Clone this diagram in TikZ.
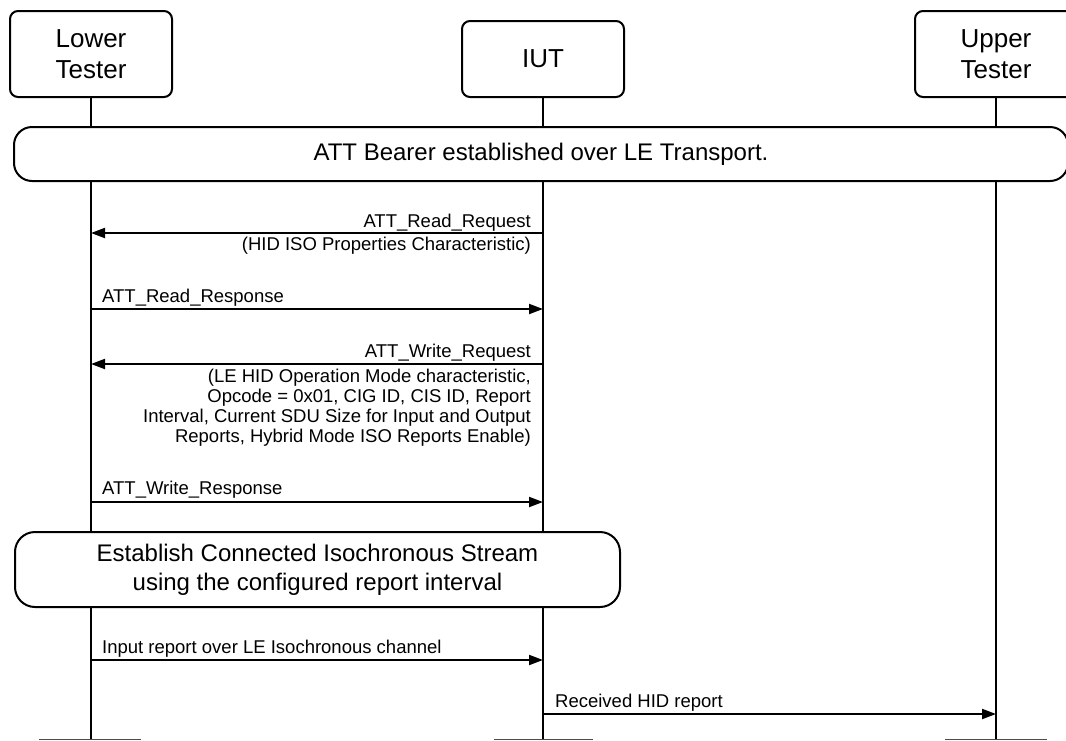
\documentclass[tikz,border=0pt]{standalone}
\usepackage{fontspec}
\setmainfont{Liberation Sans}
\usetikzlibrary{arrows.meta,calc,positioning}

\tikzset{
  actor/.style={draw,line width=2pt,rounded corners=8pt,fill=white,
    minimum width=162pt,minimum height=86pt,align=center,inner sep=0pt,
    font=\fontsize{26}{31}\selectfont},
  note/.style={draw,line width=2pt,fill=white,align=center,inner sep=0pt,
    font=\fontsize{24}{29}\selectfont},
  life/.style={line width=2pt},
  msg/.style={line width=2pt,-{Triangle[length=14pt,width=10pt]}},
  lbl/.style={inner sep=0pt,font=\fontsize{18.5}{20}\selectfont},
  foot/.style={line width=1.5pt,black!70}
}

\begin{document}
\begin{tikzpicture}[x=1pt,y=-1pt]
 \useasboundingbox (0,0) rectangle (1066,740);
 % participants
 \node[actor] (lt) at (91,54) {Lower\\Tester};
 \node[actor,minimum height=76pt] (iut) at (543,59) {IUT};
 \node[actor] (ut) at (996,54) {Upper\\Tester};
 \coordinate (lt-end) at (lt.south |- 0,740);
 \coordinate (iut-end) at (iut.south |- 0,740);
 \coordinate (ut-end) at (ut.south |- 0,740);
 \draw[life] (lt.south) -- (lt-end);
 \draw[life] (iut.south) -- (iut-end);
 \draw[life] (ut.south) -- (ut-end);
 \draw[foot] (39,739.5) -- (141,739.5);
 \draw[foot] (494,739.5) -- (593,739.5);
 \draw[foot] (945,739.5) -- (1047,739.5);

 \node[note,rounded corners=18pt,minimum width=1054pt,minimum height=54pt] (bearer)
   at (541,154) {ATT Bearer established over LE Transport.};

 % ATT read
 \coordinate (lt1) at (lt.south |- 0,233);
 \coordinate (iut1) at (iut.south |- 0,233);
 \draw[msg] (iut1) -- (lt1);
 \node[lbl,anchor=base east] (rreq) at ($(iut1)+(-12,-6)$) {ATT\_Read\_Request};
 \node[lbl,anchor=north east,align=right] (rreq-p) at ($(iut1)+(-12,3.5)$)
   {(HID ISO Properties Characteristic)};

 \coordinate (lt2) at (lt.south |- 0,309);
 \coordinate (iut2) at (iut.south |- 0,309);
 \draw[msg] (lt2) -- (iut2);
 \node[lbl,anchor=base west] (rrsp) at ($(lt2)+(11,-7)$) {ATT\_Read\_Response};

 % ATT write
 \coordinate (lt3) at (lt.south |- 0,364);
 \coordinate (iut3) at (iut.south |- 0,364);
 \draw[msg] (iut3) -- (lt3);
 \node[lbl,anchor=base east] (wreq) at ($(iut3)+(-12,-7)$) {ATT\_Write\_Request};
 \node[lbl,anchor=north east,align=right] (wreq-p) at ($(iut3)+(-12,4.5)$)
   {(LE HID Operation Mode characteristic,\\
    Opcode = 0x01, CIG ID, CIS ID, Report\\
    Interval, Current SDU Size for Input and Output\\
    Reports, Hybrid Mode ISO Reports Enable)};

 \coordinate (lt4) at (lt.south |- 0,502);
 \coordinate (iut4) at (iut.south |- 0,502);
 \draw[msg] (lt4) -- (iut4);
 \node[lbl,anchor=base west] (wrsp) at ($(lt4)+(11,-8)$) {ATT\_Write\_Response};

 \node[note,rounded corners=20pt,minimum width=605pt,minimum height=75pt] (cis)
   at (317.5,569.5) {Establish Connected Isochronous Stream\\using the configured report interval};

 % reports
 \coordinate (lt5) at (lt.south |- 0,660);
 \coordinate (iut5) at (iut.south |- 0,660);
 \draw[msg] (lt5) -- (iut5);
 \node[lbl,anchor=base west] (inrep) at ($(lt5)+(11,-7)$) {Input report over LE Isochronous channel};

 \coordinate (iut6) at (iut.south |- 0,714);
 \coordinate (ut6) at (ut.south |- 0,714);
 \draw[msg] (iut6) -- (ut6);
 \node[lbl,anchor=base west] (hidrep) at ($(iut6)+(12,-7)$) {Received HID report};
\end{tikzpicture}
\end{document}
